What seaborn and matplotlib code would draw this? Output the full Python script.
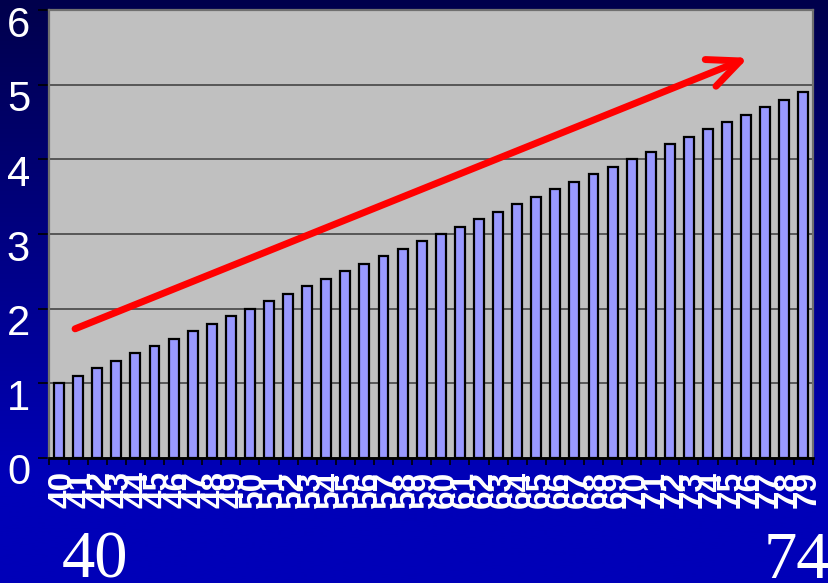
import numpy as np
import matplotlib
matplotlib.use("Agg")
import matplotlib.pyplot as plt
import matplotlib.transforms as mtransforms
import seaborn as sns

# Categories along the x axis and the bar heights
ages = ["40", "41", "42", "43", "44", "45", "46", "47", "48", "49",
        "50", "51", "52", "53", "54", "55", "56", "57", "58", "59",
        "60", "61", "62", "63", "64", "65", "66", "67", "68", "69",
        "70", "71", "72", "73", "74", "75", "76", "77", "78", "79"]
values = [1.0, 1.1, 1.2, 1.3, 1.4, 1.5, 1.6, 1.7, 1.8, 1.9,
          2.0, 2.1, 2.2, 2.3, 2.4, 2.5, 2.6, 2.7, 2.8, 2.9,
          3.0, 3.1, 3.2, 3.3, 3.4, 3.5, 3.6, 3.7, 3.8, 3.9,
          4.0, 4.1, 4.2, 4.3, 4.4, 4.5, 4.6, 4.7, 4.8, 4.9]
y_ticks = [0, 1, 2, 3, 4, 5, 6]
range_labels = ["40", "74"]

sns.set_theme(style="white")
plt.rcParams["font.family"] = ["Liberation Sans", "DejaVu Sans"]

W, H = 829, 583
fig = plt.figure(figsize=(W / 100, H / 100), dpi=100)

# Navy-to-blue vertical gradient behind everything
bg = fig.add_axes([0, 0, 1, 1], zorder=-10)
rows = np.linspace(0, 1, 300)
blue = np.clip(0x4C + (0xB8 - 0x4C) * rows / 0.82, 0x4C, 0xB8) / 255.0
grad = np.zeros((300, 1, 3))
grad[:, 0, 2] = blue
bg.imshow(grad, aspect="auto", extent=[0, 1, 1, 0])
bg.set_axis_off()

ax = fig.add_axes([49.5 / W, 1 - 458 / H, (813 - 49.5) / W, (458 - 10) / H])
ax.set_facecolor("#C0C0C0")

sns.barplot(x=ages, y=values, color="#9999FF", saturation=1,
            edgecolor="black", linewidth=1.6, width=0.52, ax=ax, zorder=3)

ax.set_ylim(0, 6)
ax.set_xlim(-0.5, len(ages) - 0.5)
ax.set_yticks(y_ticks)
ax.set_yticklabels([str(t) for t in y_ticks], color="white", fontsize=30)
ax.yaxis.grid(True, color="#3a3a3a", linewidth=1.1, zorder=1)
ax.set_axisbelow(True)
ax.set_xlabel("")
ax.set_ylabel("")

# Tick marks between categories, labels centred on each bar
ax.set_xticks(np.arange(len(ages) + 1) - 0.5, minor=True)
ax.tick_params(axis="x", which="minor", length=5, width=1.2, color="black",
               direction="out", bottom=True)
ax.tick_params(axis="x", which="major", length=0, pad=9)
ax.set_xticklabels(ages, rotation=90, color="white", fontsize=24,
                   fontweight="bold")
ax.tick_params(axis="y", length=8, width=1.2, color="black", direction="out",
               pad=6, left=True)

# Value labels sit just below their gridline; category labels nudged right
down = mtransforms.ScaledTranslation(0, -11 / 100, fig.dpi_scale_trans)
for lab in ax.get_yticklabels():
    lab.set_transform(lab.get_transform() + down)
right = mtransforms.ScaledTranslation(4 / 100, 0, fig.dpi_scale_trans)
for lab in ax.get_xticklabels():
    lab.set_transform(lab.get_transform() + right)

for side in ("top", "left", "right"):
    ax.spines[side].set_color("#707070")
    ax.spines[side].set_linewidth(1.6)
ax.spines["bottom"].set_color("black")
ax.spines["bottom"].set_linewidth(2)

# Upward trend arrow
ax.annotate("", xy=(36.1, 5.36), xytext=(0.84, 1.73),
            arrowprops=dict(arrowstyle="->,head_length=1.0,head_width=0.45",
                            color="#FF0000", lw=5, mutation_scale=23,
                            shrinkA=0, shrinkB=0),
            zorder=5)

fig.text(95 / W, 1 - 578 / H, range_labels[0], color="white", fontsize=48,
         family="Liberation Serif", ha="center", va="baseline")
fig.text(797 / W, 1 - 578 / H, range_labels[1], color="white", fontsize=48,
         family="Liberation Serif", ha="center", va="baseline")

fig.savefig("out.png", dpi=100)
